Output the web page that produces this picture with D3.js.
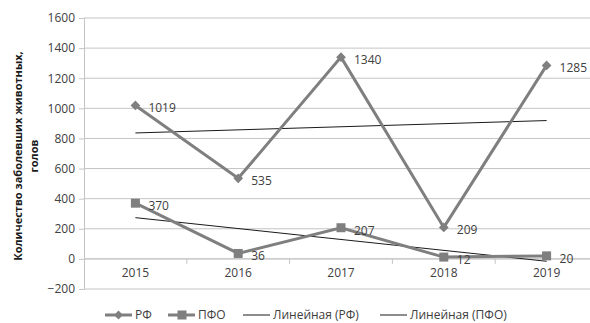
<!DOCTYPE html>
<html><head><meta charset="utf-8">
<script src="https://cdn.jsdelivr.net/npm/d3@7"></script>
<style>body{margin:0;background:#fff}svg{display:block}text{font-family:"Open Sans",sans-serif}</style>
</head><body>
<svg id="c" width="590" height="323"></svg>
<script>
const years = ["2015","2016","2017","2018","2019"];
const rf = [1019, 535, 1340, 209, 1285];
const pfo = [370, 36, 207, 12, 20];
const yTicks = [-200,0,200,400,600,800,1000,1200,1400,1600];
const legendLabels = ["РФ","ПФО","Линейная (РФ)","Линейная (ПФО)"];
const yTitle = ["Количество заболевших животных,","голов"];

function linfit(v){
  const xs=v.map((_,i)=>i+1);
  const mx=d3.mean(xs), my=d3.mean(v);
  const b=d3.sum(xs.map((x,i)=>(x-mx)*(v[i]-my)))/d3.sum(xs.map(x=>(x-mx)**2));
  return xs.map(x=>my+b*(x-mx));
}

const svg=d3.select("#c");
const L=84, R=598, T=18, B=289;
const x=d3.scaleBand().domain(years).range([L,R]);
const y=d3.scaleLinear().domain([-200,1600]).range([B,T]);
const cx=d=>x(d)+x.bandwidth()/2;
const grey="#7f7f7f", grid="#c4c4c4", txt="#404040";

svg.append("g").selectAll("line").data(yTicks).join("line")
  .attr("x1",L).attr("x2",R).attr("y1",d=>y(d)).attr("y2",d=>y(d))
  .attr("stroke",grid).attr("stroke-width",1);

const ya=svg.append("g").attr("transform",`translate(${L},0)`)
  .call(d3.axisLeft(y).tickValues(yTicks).tickFormat(d3.format("d")).tickSize(5).tickPadding(4));
ya.select(".domain").attr("stroke",grid);
ya.selectAll(".tick line").attr("stroke",grid);
ya.selectAll("text").attr("fill",txt).style("font-size","12px").style("font-family","Open Sans");

const xa=svg.append("g").attr("transform",`translate(0,${y(0)})`)
  .call(d3.axisBottom(x).tickSize(0).tickPadding(10));
xa.select(".domain").remove();
xa.selectAll("text").attr("fill",txt).style("font-size","12px").style("font-family","Open Sans");
svg.append("line").attr("x1",L).attr("x2",R).attr("y1",y(0)).attr("y2",y(0)).attr("stroke",grid);
svg.append("g").selectAll("line").data(years.slice(1)).join("line")
  .attr("x1",d=>x(d)).attr("x2",d=>x(d)).attr("y1",y(0)).attr("y2",y(0)+5).attr("stroke",grid);

// trend lines
[rf,pfo].forEach(s=>{
  const t=linfit(s);
  svg.append("line").attr("x1",cx(years[0])).attr("x2",cx(years[4]))
    .attr("y1",y(t[0])).attr("y2",y(t[4])).attr("stroke","#1a1a1a").attr("stroke-width",1);
});

const line=d3.line().x((d,i)=>cx(years[i])).y(d=>y(d));
[rf,pfo].forEach((s,k)=>{
  svg.append("path").attr("d",line(s)).attr("fill","none").attr("stroke",grey).attr("stroke-width",3);
  const g=svg.append("g");
  s.forEach((v,i)=>{
    if(k===0) g.append("path").attr("d",d3.symbol(d3.symbolDiamond2,60)()).attr("transform",`translate(${cx(years[i])},${y(v)})`).attr("fill",grey);
    else g.append("rect").attr("x",cx(years[i])-4.5).attr("y",y(v)-4.5).attr("width",9).attr("height",9).attr("fill",grey);
    svg.append("text").attr("x",cx(years[i])+13).attr("y",y(v)+7).text(v)
      .attr("fill",txt).style("font-size","12px");
  });
});

// y title
const tt=svg.append("text").attr("transform","translate(22,156) rotate(-90)")
  .attr("text-anchor","middle").style("font-size","11px").style("font-weight","bold").attr("fill","#1a1a1a");
tt.append("tspan").attr("x",0).attr("dy",0).text(yTitle[0]);
tt.append("tspan").attr("x",0).attr("dy",16).text(yTitle[1]);

// legend
const lx=[105,168,243,380], ly=315;
legendLabels.forEach((lab,i)=>{
  const g=svg.append("g");
  const thick=i<2;
  g.append("line").attr("x1",lx[i]).attr("x2",lx[i]+27).attr("y1",ly).attr("y2",ly)
    .attr("stroke",thick?grey:"#1a1a1a").attr("stroke-width",thick?3:1);
  if(i===0) g.append("path").attr("d",d3.symbol(d3.symbolDiamond2,50)()).attr("transform",`translate(${lx[i]+13.5},${ly})`).attr("fill",grey);
  if(i===1) g.append("rect").attr("x",lx[i]+9.5).attr("y",ly-4.5).attr("width",9).attr("height",9).attr("fill",grey);
  g.append("text").attr("x",lx[i]+30).attr("y",ly+4).text(lab).attr("fill",txt).style("font-size","12px");
});
</script>
</body></html>
